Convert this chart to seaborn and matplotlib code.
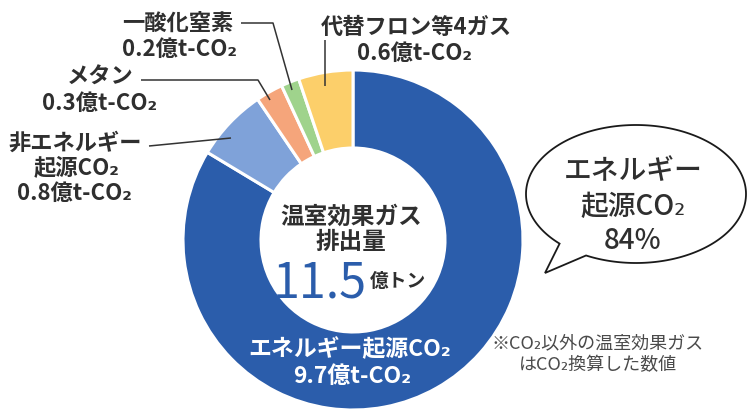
import numpy as np
import matplotlib
matplotlib.use("Agg")
import matplotlib.pyplot as plt
from matplotlib.patches import Polygon
import seaborn as sns

# data (億t-CO2), clockwise from 12 o'clock
gases = ["エネルギー起源CO₂", "非エネルギー起源CO₂", "メタン", "一酸化窒素", "代替フロン等4ガス"]
amounts = [9.7, 0.8, 0.3, 0.2, 0.6]
total_label = "11.5"
share_label = "84%"
colors = ["#2b5dab", "#7fa2d9", "#f5a57b", "#9fd38c", "#fccf6a"]

sns.set_style("white")
plt.rcParams['font.family'] = ['Noto Sans CJK JP', 'DejaVu Sans']

W, H = 749, 411
fig = plt.figure(figsize=(W / 100, H / 100), dpi=100)
ax = fig.add_axes([0, 0, 1, 1])

cx, cy, R = 353, 240, 170
ax.pie(amounts, colors=sns.color_palette(colors), startangle=90, counterclock=False,
       center=(cx, H - cy), radius=R,
       wedgeprops=dict(width=78, edgecolor="white", linewidth=2.2))
ax.set_xlim(0, W)
ax.set_ylim(0, H)
ax.set_aspect("equal")
ax.axis("off")

dark = "#2f2f2f"


def txt(x, y, s, size=16, color=dark, weight="bold", **kw):
    ax.text(x, H - y, s, ha="center", va="center", fontsize=size,
            color=color, fontweight=weight, **kw)


def leader(xs, ys):
    ax.plot(xs, [H - y for y in ys], color="#333333", lw=1.1, solid_capstyle="butt")


# outside labels
txt(178, 23, gases[3])
txt(180, 49, f"{amounts[3]}億t-CO₂")
leader([241, 273, 292], [23, 23, 90])

txt(100, 77, gases[2])
txt(100, 103, f"{amounts[2]}億t-CO₂")
leader([141, 258, 270], [80, 80, 100])

txt(75, 143, "非エネルギー")
txt(77, 168, "起源CO₂")
txt(75, 193, f"{amounts[1]}億t-CO₂")
leader([149, 231], [146, 138])

txt(416, 27, gases[4])
txt(415, 53, f"{amounts[4]}億t-CO₂")
leader([325, 325], [40, 86])

# centre
txt(351, 217, "温室効果ガス", size=17)
txt(351, 242, "排出量", size=17)
ax.text(367, H - 297, total_label, ha="right", va="baseline", fontsize=35,
        color="#2b5dab", fontweight="normal")
ax.text(370, H - 281, "億トン", ha="left", va="center", fontsize=13.5,
        color=dark, fontweight="bold")

# inside the big wedge
txt(350, 350, gases[0], size=16.5, color="white")
txt(352, 376, f"{amounts[0]}億t-CO₂", size=16.5, color="white")

# speech bubble
bx, by, a, b = 636, H - 194, 110, 69
t = np.radians(np.linspace(243, 586, 240))
pts = np.column_stack([bx + a * np.cos(t), by + b * np.sin(t)])
pts = np.vstack([pts, [545, H - 273]])
ax.add_patch(Polygon(pts, closed=True, facecolor="white", edgecolor="#1a1a1a", lw=1.3, zorder=3))
txt(633, 171, "エネルギー", size=20, weight="medium", zorder=4)
txt(633, 206, "起源CO₂", size=20, weight="medium", zorder=4)
txt(633, 240, share_label, size=20, weight="medium", zorder=4)

# footnote
txt(598, 343, "※CO₂以外の温室効果ガス", size=13, color="#4a4a4a", weight="normal")
txt(598, 365, "はCO₂換算した数値", size=13, color="#4a4a4a", weight="normal")

fig.savefig("out.png", dpi=100, facecolor="white")
